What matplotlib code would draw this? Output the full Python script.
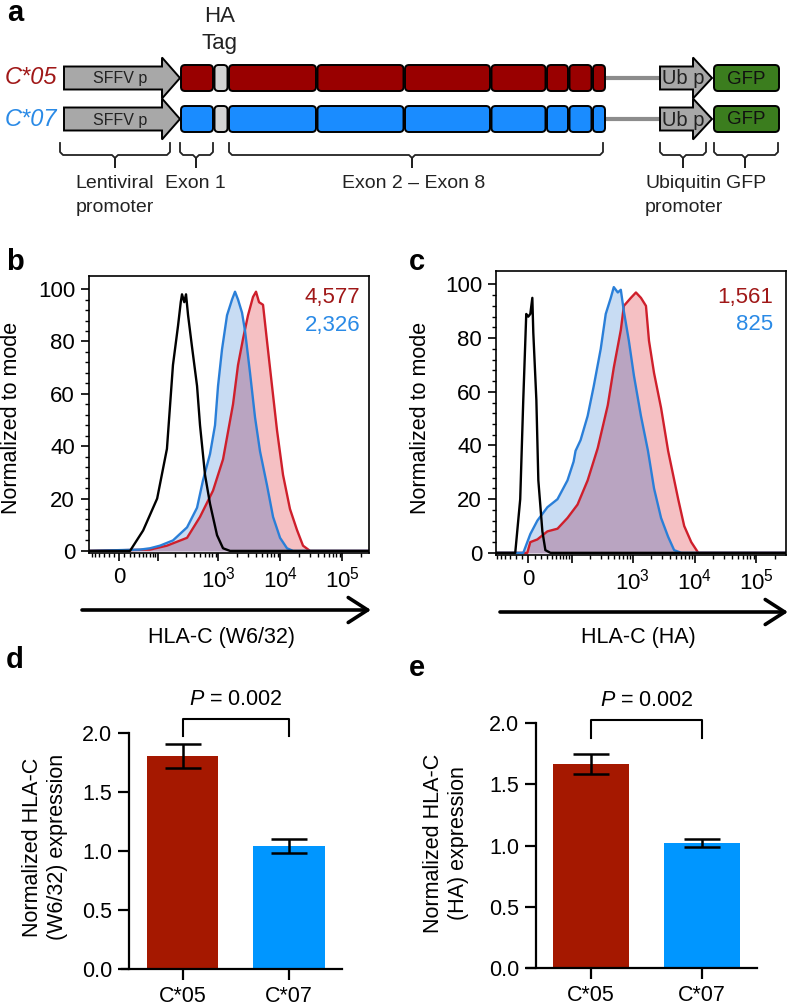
import numpy as np
import matplotlib
matplotlib.use('Agg')
import matplotlib.pyplot as plt
from matplotlib.patches import FancyBboxPatch, FancyArrow, FancyArrowPatch

plt.rcParams['font.family'] = ['Liberation Sans', 'DejaVu Sans']
plt.rcParams['mathtext.fontset'] = 'custom'
plt.rcParams['mathtext.rm'] = 'Liberation Sans'
plt.rcParams['mathtext.it'] = 'Liberation Sans:italic'
plt.rcParams['mathtext.bf'] = 'Liberation Sans:bold'

W, H = 788, 1006

# ------------------------------------------------------------------ data
alleles = ['C*05', 'C*07']
# panel a: construct segments (schematic widths) exon1, HA tag, exon2..exon8
segment_widths = [32, 13, 87, 86, 85, 54, 21, 22, 12]
segment_kind = ['exon', 'tag', 'exon', 'exon', 'exon', 'exon', 'exon', 'exon', 'exon']
brace_labels = [('Lentiviral', 'promoter'), ('Exon 1', ''), ('Exon 2 \u2013 Exon 8', ''),
                ('Ubiquitin', 'promoter'), ('GFP', '')]

# panel b: HLA-C (W6/32) histograms (fluorescence, % of mode)
b_ctrl_x = [-68, -17, 21, 51, 97, 144, 182, 221, 245, 257, 280, 299, 323, 374, 452, 505, 609, 733, 952, 1190, 1544, 269000]
b_ctrl_y = [0, 0, 0, 7.8, 20, 39, 71, 86, 95, 98, 95, 98, 90, 78, 63, 48, 29, 18, 6, 1, 0, 0]
b_c07_x = [-68, 43, 71, 109, 182, 311, 452, 565, 733, 883, 988, 1146, 1380, 1662, 1857, 2076, 2409, 2694, 3243, 3905, 4703, 6100, 7625, 9890, 12800, 16000, 269000]
b_c07_y = [0, 0.5, 1, 2, 4, 9, 16.5, 27, 37, 48, 63, 77, 90, 96, 99, 96, 91, 84, 68, 51, 38, 25, 13, 5, 1, 0, 0]
b_c05_x = [-68, 71, 144, 311, 505, 819, 1190, 1724, 2076, 2500, 3010, 3625, 4050, 4530, 5255, 6100, 7340, 8840, 11050, 14300, 18550, 23200, 30100, 269000]
b_c05_y = [0, 0.5, 2, 5, 13, 23, 35, 56, 71, 81, 90, 97, 99, 95, 94, 80, 63, 46, 29, 16, 8, 2, 0, 0]
b_mfi = ['4,577', '2,326']

# panel c: HLA-C (HA) histograms
c_ctrl_x = [-62, -20.7, -12.5, -7.7, -3.1, 0, 3.1, 6.2, 7.7, 12.5, 15.7, 22.5, 27.9, 37.8, 300000]
c_ctrl_y = [0, 0, 20, 57, 89, 88, 89, 95, 82, 57, 27, 8, 1, 0, 0]
c_c07_x = [-62, -7.7, 3.1, 14.1, 31.7, 53.9, 83.4, 107, 115.5, 140.6, 184.5, 232, 302.5, 365, 441, 493, 573, 641, 718, 865, 1045, 1357, 1763, 2209, 2870, 3731, 4670, 6070, 300000]
c_c07_y = [0, 0, 7, 12, 17, 20, 27, 34, 38, 42, 51, 62, 76, 89, 95, 99, 97, 98, 90, 79, 66, 51, 38, 24, 13, 6, 1, 0, 0]
c_c05_x = [-62, -1.5, 3.1, 14.1, 31.7, 53.9, 83.4, 125, 184.5, 270, 394, 493, 641, 718, 933, 1126, 1357, 1636, 1831, 2209, 2870, 3731, 5428, 6790, 8830, 11460, 300000]
c_c05_y = [0, 0, 4, 5, 8, 9, 13, 18, 27, 39, 55, 69, 83, 92, 95, 97, 95, 92, 79, 67, 54, 38, 20, 10, 4, 0, 0]
c_mfi = ['1,561', '825']

# panels d, e: normalized expression (mean, s.e.m.)
d_means = [1.805, 1.04]
d_err = [0.10, 0.058]
e_means = [1.665, 1.02]
e_err = [0.082, 0.033]
p_text = r'$\it{P}$ = 0.002'

# ------------------------------------------------------------------ styles
RED_BOX = '#990000'
BLUE_BOX = '#1a8cff'
RED_LINE = '#cf1f2b'
BLUE_LINE = '#2a7fd8'
RED_FILL = '#f5c0c3'
BLUE_FILL = '#c8dcf3'
OVERLAP_FILL = '#b9a4c1'
RED_TXT = '#a01818'
BLUE_TXT = '#2a8ae6'
RED_BAR = '#a51800'
BLUE_BAR = '#0096ff'


def fx(px):
    return px / W


def fy(py):
    return 1 - py / H


fig = plt.figure(figsize=(W / 100, H / 100), dpi=100)

# ------------------------------------------------------------------ panel a
axa = fig.add_axes([0, 1 - 215 / H, 1, 215 / H])
axa.set_xlim(0, W)
axa.set_ylim(215, 0)
axa.axis('off')

row_y = [78, 119]
row_col = [RED_BOX, BLUE_BOX]
row_txt = [RED_TXT, BLUE_TXT]
bh = 26
for yc, col, tcol, name in zip(row_y, row_col, row_txt, alleles):
    axa.text(5, yc, name, fontsize=17, style='italic', color=tcol, ha='left', va='center')
    axa.add_patch(FancyArrow(64, yc, 116, 0, width=23, head_width=41, head_length=18,
                             length_includes_head=True, fc='#a8a8a8', ec='black', lw=1.4))
    axa.text(120, yc + 1, 'SFFV p', fontsize=11.5, ha='center', va='center', color='#222222')
    x = 181
    for w, kind in zip(segment_widths, segment_kind):
        fc = '#d3d3d3' if kind == 'tag' else col
        axa.add_patch(FancyBboxPatch((x, yc - bh / 2), w, bh,
                                     boxstyle='round,pad=0,rounding_size=4',
                                     fc=fc, ec='black', lw=1.4))
        x += w + 1.5
    axa.plot([x, 661], [yc, yc], color='#8c8c8c', lw=3, solid_capstyle='butt', zorder=1)
    axa.add_patch(FancyArrow(660, yc, 52, 0, width=23, head_width=41, head_length=19,
                             length_includes_head=True, fc='#a8a8a8', ec='black', lw=1.4))
    axa.text(683, yc + 1, 'Ub p', fontsize=14.5, ha='center', va='center', color='#222222', zorder=5)
    axa.add_patch(FancyBboxPatch((714, yc - bh / 2), 65, bh,
                                 boxstyle='round,pad=0,rounding_size=4',
                                 fc='#3b7d1e', ec='black', lw=1.4))
    axa.text(746, yc + 1, 'GFP', fontsize=13.5, ha='center', va='center', color='#111111')

braces = [(60, 170, 115), (180, 213, 196), (229, 603, 412), (660, 706, 683), (714, 778, 745)]
label_x = [115, 195, 414, 684, 746]
for (x0, x1, xm), (l1, l2), lx in zip(braces, brace_labels, label_x):
    bx = [x0, x0, x0 + 3, xm - 3, xm, xm, xm, xm + 3, x1 - 3, x1, x1]
    by = [143, 152, 155, 155, 158, 167, 158, 155, 155, 152, 143]
    axa.plot(bx, by, color='#222222', lw=1.3)
    axa.text(lx, 183, l1, fontsize=14, ha='center', va='center', color='#222222')
    if l2:
        axa.text(lx, 207, l2, fontsize=14, ha='center', va='center', color='#222222')

axa.text(220, 17, 'HA', fontsize=16, ha='center', va='center', color='#222222')
axa.text(220, 43, 'Tag', fontsize=16, ha='center', va='center', color='#222222')

# ------------------------------------------------------------------ panels b, c


def hist_panel(rect, a, xlim, ctrl, c07, c05, mfi, mfi_pos):
    ax = fig.add_axes(rect)
    ax.set_xscale('asinh', linear_width=a)
    ax.set_xlim(*xlim)
    ax.set_ylim(-0.8, 105)
    grid = a * np.sinh(np.linspace(np.arcsinh(xlim[0] / a), np.arcsinh(xlim[1] / a), 3000))
    tg = np.arcsinh(grid / a)
    r = np.interp(tg, np.arcsinh(np.array(c05[0]) / a), c05[1])
    b = np.interp(tg, np.arcsinh(np.array(c07[0]) / a), c07[1])
    ax.fill_between(grid, 0, r, color=RED_FILL, lw=0)
    ax.fill_between(grid, 0, b, color=BLUE_FILL, lw=0)
    ax.fill_between(grid, 0, np.minimum(r, b), color=OVERLAP_FILL, lw=0)
    ax.plot(c05[0], c05[1], color=RED_LINE, lw=1.7)
    ax.plot(c07[0], c07[1], color=BLUE_LINE, lw=1.7)
    ax.plot(ctrl[0], ctrl[1], color='black', lw=1.7)
    ax.set_xticks([0, 100, 1000, 10000, 100000])
    ax.set_xticklabels(['0', '', r'$10^{3}$', r'$10^{4}$', r'$10^{5}$'])
    minors = [-90, -80, -70, -60, -50, -40, -30, -20, -10, 10, 20, 30, 40, 50, 60, 70, 80, 90]
    for dec in (100, 1000, 10000):
        minors += [k * dec for k in range(2, 10)]
    minors += [200000]
    minors = [m for m in minors if xlim[0] < m < xlim[1]]
    ax.set_xticks(minors, minor=True)
    ax.set_yticks([0, 20, 40, 60, 80, 100])
    ax.set_yticks(np.arange(0, 101, 4), minor=True)
    ax.tick_params(which='major', direction='out', length=6, width=1.2, labelsize=16, pad=4)
    ax.tick_params(which='minor', direction='out', length=3, width=1.0)
    for s in ax.spines.values():
        s.set_linewidth(1.2)
    ax.text(mfi_pos[0], mfi_pos[1], mfi[0], transform=ax.transAxes, ha='right', va='center',
            fontsize=16, color=RED_TXT)
    ax.text(mfi_pos[0], mfi_pos[2], mfi[1], transform=ax.transAxes, ha='right', va='center',
            fontsize=16, color=BLUE_TXT)
    return ax


hist_panel([fx(89), fy(553), fx(369) - fx(89), fy(276) - fy(553)], 50, (-68, 269000),
           (b_ctrl_x, b_ctrl_y), (b_c07_x, b_c07_y), (b_c05_x, b_c05_y), b_mfi, (0.968, 0.924, 0.823))
hist_panel([fx(496), fy(555), fx(786) - fx(496), fy(271) - fy(555)], 41, (-62, 300000),
           (c_ctrl_x, c_ctrl_y), (c_c07_x, c_c07_y), (c_c05_x, c_c05_y), c_mfi, (0.955, 0.908, 0.81))

fig.text(fx(12), fy(418), 'Normalized to mode', rotation=90, ha='center', va='center', fontsize=15.5)
fig.text(fx(420), fy(418), 'Normalized to mode', rotation=90, ha='center', va='center', fontsize=15.5)

for x0, x1, yy, lab, lx in [(82, 371, 610, 'HLA-C (W6/32)', 222), (500, 788, 612, 'HLA-C (HA)', 638)]:
    fig.add_artist(FancyArrowPatch((fx(x0), fy(yy)), (fx(x1), fy(yy)), transform=fig.transFigure,
                                   arrowstyle='->,head_length=0.7,head_width=0.45', lw=2.6,
                                   color='black', mutation_scale=20, shrinkA=0, shrinkB=0))
    fig.text(fx(lx), fy(637), lab, ha='center', va='center', fontsize=15.5)

# ------------------------------------------------------------------ panels d, e


def bar_panel(rect, xl, spine_x, width, means, err, bracket, ptxt_y, ylab, ylab_pos):
    ax = fig.add_axes(rect)
    ax.bar([0, 1], means, width=width, color=[RED_BAR, BLUE_BAR], zorder=2)
    ax.errorbar([0, 1], means, yerr=err, fmt='none', ecolor='black', elinewidth=1.8,
                capsize=13, capthick=1.8, zorder=3)
    ax.set_xlim(*xl)
    ax.set_ylim(0, 2.0)
    ax.spines['top'].set_visible(False)
    ax.spines['right'].set_visible(False)
    ax.spines['left'].set_position(('data', spine_x))
    ax.spines['left'].set_linewidth(1.6)
    ax.spines['bottom'].set_linewidth(1.6)
    ax.set_yticks([0, 0.5, 1.0, 1.5, 2.0])
    ax.set_yticklabels(['0.0', '0.5', '1.0', '1.5', '2.0'])
    ax.set_xticks([0, 1])
    ax.set_xticklabels(alleles)
    ax.tick_params(direction='out', length=8, width=1.6, labelsize=15.5, pad=4)
    ax.plot([0, 0, 1, 1], [bracket[0], bracket[1], bracket[1], bracket[0]], color='black',
            lw=1.5, clip_on=False)
    ax.text(0.5, ptxt_y, p_text, ha='center', va='center', fontsize=15.5)
    fig.text(fx(ylab_pos[0]), fy(ylab_pos[1]), ylab, rotation=90, ha='center', va='center',
             fontsize=15.5, linespacing=1.25)
    return ax


bar_panel([fx(122), fy(969), fx(342) - fx(122), fy(733) - fy(969)], (-0.575, 1.5), -0.509, 0.67,
          d_means, d_err, (1.975, 2.119), 2.28, 'Normalized HLA-C\n(W6/32) expression', (45, 847))
bar_panel([fx(527), fy(968), fx(757) - fx(527), fy(723) - fy(968)], (-0.577, 1.495), -0.495, 0.68,
          e_means, e_err, (1.878, 2.024), 2.18, 'Normalized HLA-C\n(HA) expression', (446, 843))

# ------------------------------------------------------------------ panel letters
for lt, px, py in [('a', 15, 13), ('b', 15, 262), ('c', 417, 262), ('d', 15, 660), ('e', 417, 668)]:
    fig.text(fx(px), fy(py), lt, fontsize=21, fontweight='bold', ha='center', va='center')

fig.savefig('out.png', dpi=100)
